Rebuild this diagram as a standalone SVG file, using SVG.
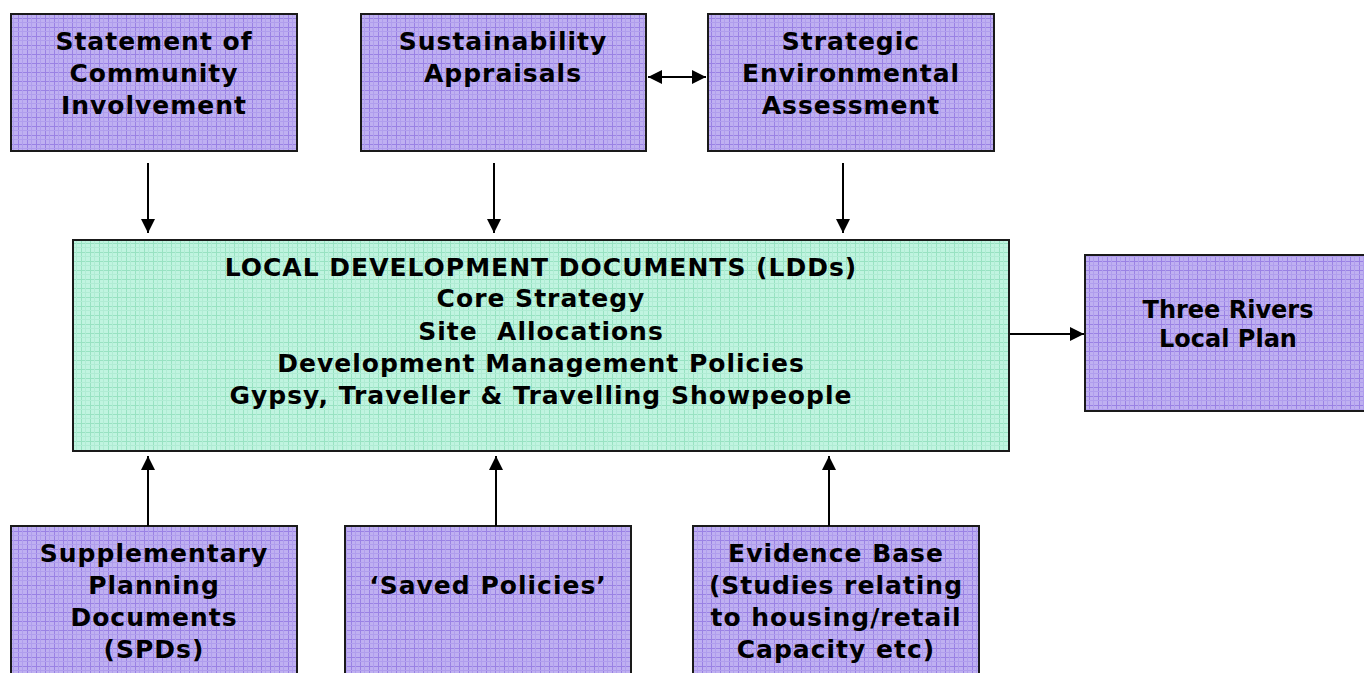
<svg xmlns="http://www.w3.org/2000/svg" width="1364" height="673" viewBox="0 0 1364 673">
<defs>
<pattern id="pp" width="9" height="9" patternUnits="userSpaceOnUse">
<rect width="9" height="9" fill="#bfb0f1"/>
<path d="M0 0.5H9M0.5 0V9" stroke="#9a82e4" stroke-width="1"/>
<path d="M4.5 0V9M0 4.5H9" stroke="#b09eed" stroke-width="1"/>
</pattern>
<pattern id="gp" width="9" height="9" patternUnits="userSpaceOnUse">
<rect width="9" height="9" fill="#c0f4e0"/>
<path d="M0 0.5H9M0.5 0V9" stroke="#98e2c2" stroke-width="1"/>
<path d="M4.5 0V9M0 4.5H9" stroke="#b0ecd4" stroke-width="1"/>
</pattern>
<marker id="ah2" viewBox="0 0 14 14" refX="14" refY="7" markerWidth="14" markerHeight="14" markerUnits="userSpaceOnUse" orient="auto-start-reverse">
<path d="M0 0L14 7L0 14Z" fill="#000"/>
</marker>
</defs>
<style>
.p{fill:url(#pp);stroke:#1a1a1a;stroke-width:2}
.g{fill:url(#gp);stroke:#1a1a1a;stroke-width:2}
text{font-family:"DejaVu Sans",Verdana,sans-serif;font-weight:bold;font-size:25px;letter-spacing:1px;fill:#000;text-anchor:middle}
text.s{font-size:24px;letter-spacing:0}
.c line{stroke:#000;stroke-width:2;fill:none}
</style>
<g id="sci"><rect class="p" x="11" y="14" width="286" height="137"/>
<text x="154" y="50">Statement of</text><text x="154" y="82">Community</text><text x="154" y="114">Involvement</text></g>
<g id="sa"><rect class="p" x="361" y="14" width="285" height="137"/>
<text x="503" y="50">Sustainability</text><text x="503" y="82">Appraisals</text></g>
<g id="sea"><rect class="p" x="708" y="14" width="286" height="137"/>
<text x="851" y="50">Strategic</text><text x="851" y="82">Environmental</text><text x="851" y="114">Assessment</text></g>
<g id="ldd"><rect class="g" x="73" y="240" width="936" height="211"/>
<text x="541" y="276">LOCAL DEVELOPMENT DOCUMENTS (LDDs)</text>
<text x="541" y="307">Core Strategy</text>
<text x="541" y="340" xml:space="preserve">Site  Allocations</text>
<text x="541" y="372">Development Management Policies</text>
<text x="541" y="404">Gypsy, Traveller &amp; Travelling Showpeople</text></g>
<g id="trlp"><rect class="p" x="1085" y="255" width="285" height="156"/>
<text class="s" x="1228" y="318">Three Rivers</text><text class="s" x="1228" y="347">Local Plan</text></g>
<g id="spd"><rect class="p" x="11" y="526" width="286" height="160"/>
<text x="154" y="562">Supplementary</text><text x="154" y="594">Planning</text><text x="154" y="626">Documents</text><text x="154" y="658">(SPDs)</text></g>
<g id="saved"><rect class="p" x="345" y="526" width="286" height="160"/>
<text x="488" y="594">‘Saved Policies’</text></g>
<g id="ev"><rect class="p" x="693" y="526" width="286" height="160"/>
<text x="836" y="562">Evidence Base</text><text x="836" y="594">(Studies relating</text><text x="836" y="626">to housing/retail</text><text x="836" y="658">Capacity etc)</text></g>
<g class="c" id="connectors">
<line x1="148" y1="163" x2="148" y2="233" marker-end="url(#ah2)"/>
<line x1="494" y1="163" x2="494" y2="233" marker-end="url(#ah2)"/>
<line x1="843" y1="163" x2="843" y2="233" marker-end="url(#ah2)"/>
<line x1="148" y1="526" x2="148" y2="456" marker-end="url(#ah2)"/>
<line x1="496" y1="526" x2="496" y2="456" marker-end="url(#ah2)"/>
<line x1="829" y1="526" x2="829" y2="456" marker-end="url(#ah2)"/>
<line x1="1010" y1="334" x2="1084" y2="334" marker-end="url(#ah2)"/>
<line x1="648" y1="77" x2="706" y2="77" marker-start="url(#ah2)" marker-end="url(#ah2)"/>
</g>
</svg>
